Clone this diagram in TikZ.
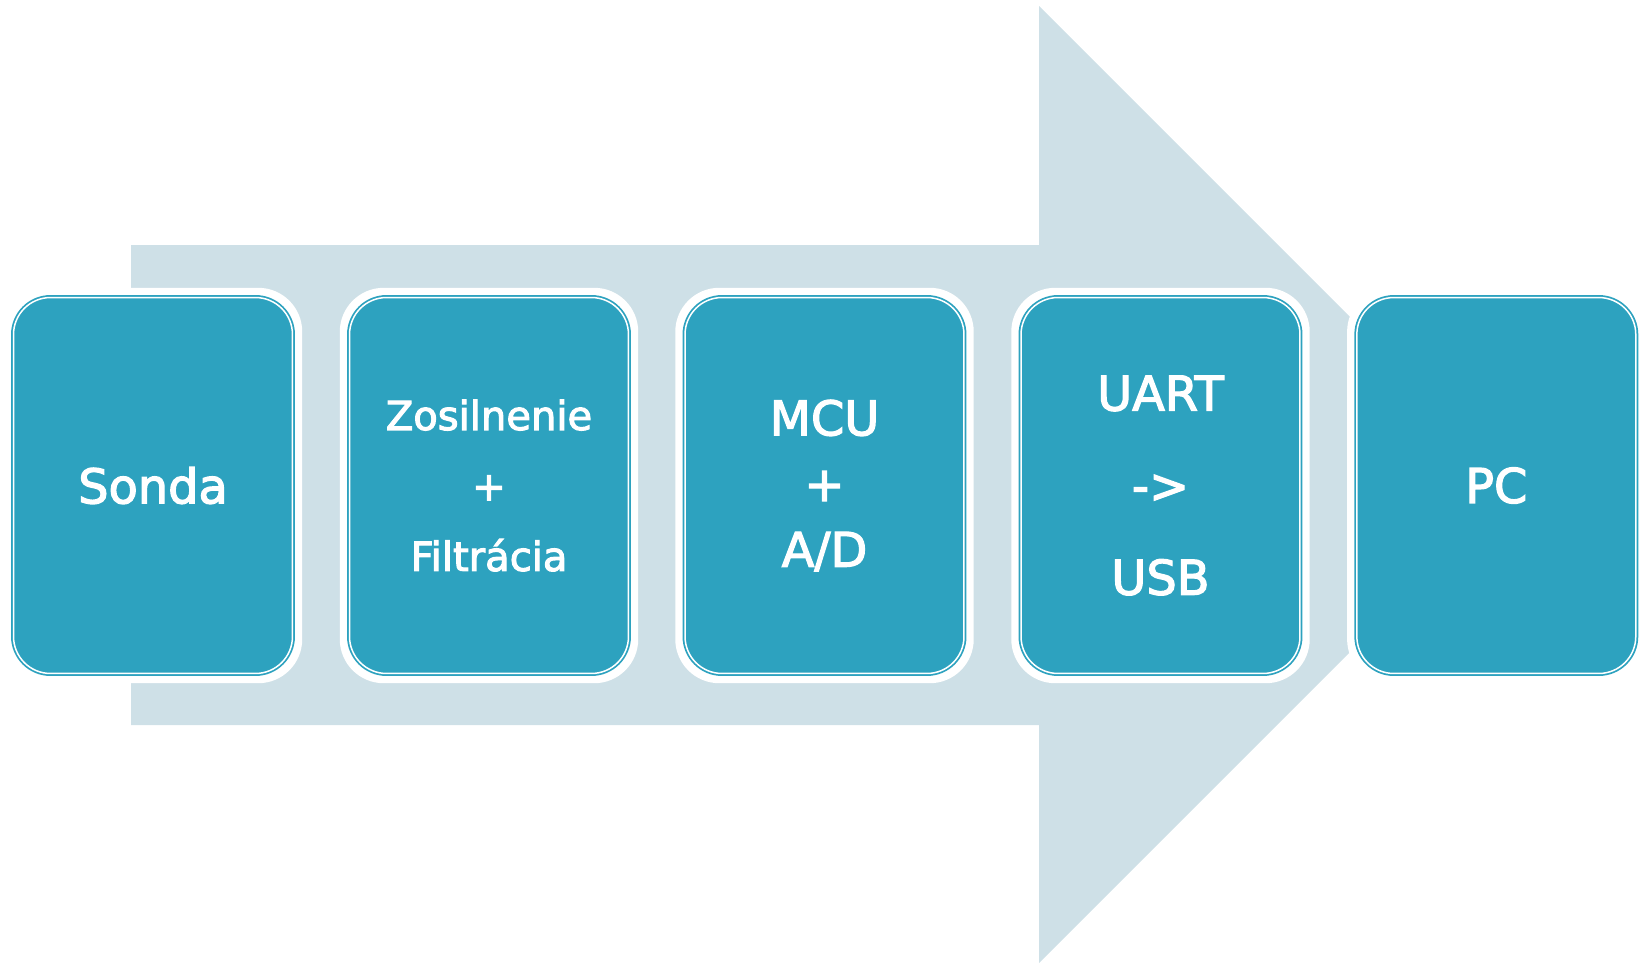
\documentclass[tikz,border=0pt]{standalone}
\usepackage{fontspec}
\setmainfont{DejaVu Sans}
\newfontfamily\boxfont{DejaVu Sans}[FakeBold=2.6]
\definecolor{boxteal}{RGB}{45,162,191}
\definecolor{arrowblue}{RGB}{206,224,231}
\begin{document}
\begin{tikzpicture}[x=0.02cm,y=-0.02cm,
  halo/.style={rectangle, fill=white, rounded corners=0.88cm,
    minimum width=5.97cm, minimum height=7.91cm, inner sep=0pt},
  stagebox/.style={rectangle, rounded corners=0.74cm,
    minimum width=5.58cm, minimum height=7.52cm, inner sep=0pt,
    fill=boxteal, draw=boxteal, line width=0.035cm,
    double=white, double distance=0.03cm,
    text=white, align=center},
  bigtxt/.style={font=\boxfont\fontsize{27.2}{37.4}\selectfont},
  midtxt/.style={font=\boxfont\fontsize{22.8}{40.1}\selectfont},
  widetxt/.style={font=\boxfont\fontsize{27.2}{52.4}\selectfont}
]
\useasboundingbox (0,0) rectangle (1645,964);
% big background arrow
\fill[arrowblue] (131,245) -- (1039,245) -- (1039,6) -- (1517.5,484.5)
  -- (1039,963) -- (1039,725) -- (131,725) -- cycle;
% white halos
\node[halo] (h1) at (153,485.5) {};
\node[halo] (h2) at (489,485.5) {};
\node[halo] (h3) at (824.5,485.5) {};
\node[halo] (h4) at (1160.5,485.5) {};
\node[halo] (h5) at (1496.3,485.5) {};
% stage boxes
\node[stagebox,bigtxt] (b1) at (h1) {Sonda};
\node[stagebox,midtxt] (b2) at (h2) {Zosilnenie\\+\\Filtrácia};
\node[stagebox,bigtxt] (b3) at (h3) {MCU\\+\\A/D};
\node[stagebox,widetxt] (b4) at (h4) {UART\\->\\USB};
\node[stagebox,bigtxt] (b5) at (h5) {PC};
\end{tikzpicture}
\end{document}
